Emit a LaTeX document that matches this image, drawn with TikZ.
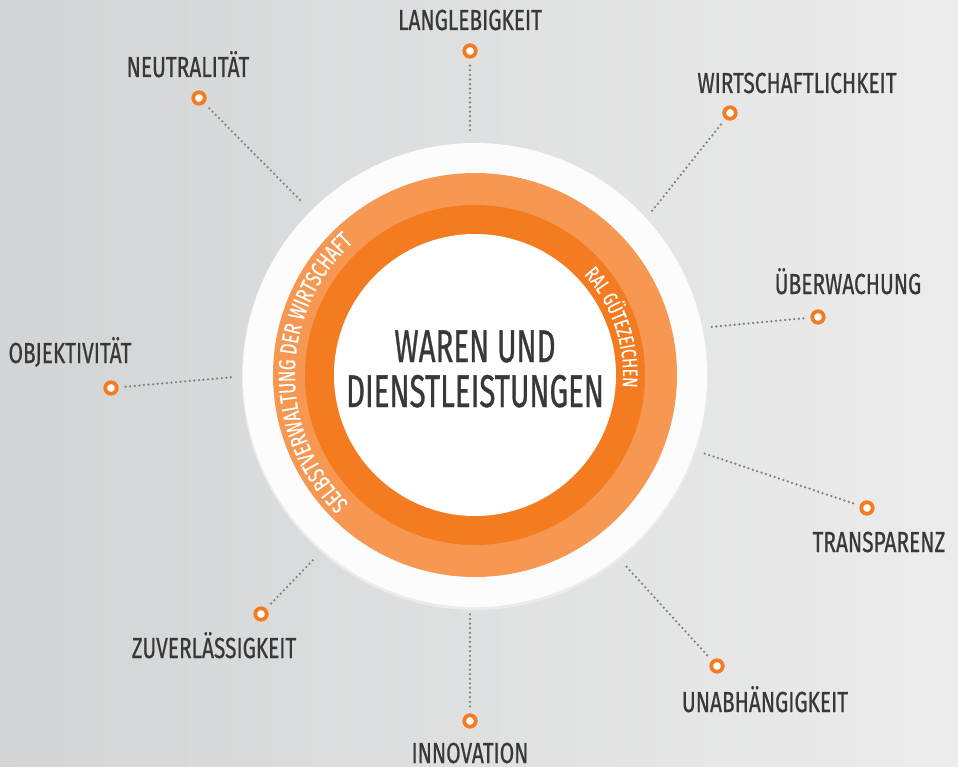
\documentclass[tikz,border=0pt]{standalone}
\usepackage{fontspec}
\usetikzlibrary{decorations.text}
\newfontfamily\dinfont{Fira Sans}[FakeStretch=0.72, FakeBold=0.6]
\newfontfamily\dincenter{Fira Sans}[FakeStretch=0.64, FakeBold=0.6]
\newfontfamily\dinring{Fira Sans}[FakeStretch=0.72, FakeBold=0.3]
\definecolor{ringlight}{HTML}{F79852}
\definecolor{ringdark}{HTML}{F47B20}
\definecolor{textgray}{HTML}{383838}
\definecolor{dotgray}{HTML}{7F7F7F}
\definecolor{bgdark}{HTML}{D2D4D5}
\definecolor{bglight}{HTML}{ECECEC}
\tikzset{
  marker/.style={circle, draw=ringdark, fill=white, line width=3.8pt, minimum size=11.5pt, inner sep=0pt},
  lbl/.style={font=\dinfont\fontsize{29}{29}\selectfont, text=textgray, inner sep=0pt, text height=20pt, text depth=0pt},
  dots/.style={dotgray, line width=2.5pt, line cap=round, dash pattern=on 0pt off 4.6pt, shorten <=7pt}
}
\begin{document}
\begin{tikzpicture}[x=1pt,y=1pt]
\useasboundingbox (-475,-391) rectangle (483,375);
% background
\shade[left color=bgdark, right color=bglight] (-475,-391) rectangle (483,375);

% rings
\fill[black!8] (0,-2) circle (233pt);
\fill[white!98!gray] (0,0) circle (232pt);
\fill[ringlight] (0,0) circle (202pt);
\fill[ringdark] (0,0) circle (170pt);
\fill[white] (0,0) circle (141pt);

% center text
\node[font=\dincenter\fontsize{46}{45}\selectfont, text=textgray, align=center, inner sep=0pt] (title) at (0,6) {WAREN UND\\DIENSTLEISTUNGEN};

% curved ring texts
\path[decorate, decoration={text along path, text align=center,
  text={|\color{white}\dinring\fontsize{23.5}{23.5}\selectfont|SELBSTVERWALTUNG DER WIRTSCHAFT}}]
  (240:180pt) arc[start angle=240, end angle=118, radius=180pt];
\path[decorate, decoration={text along path, text align=center,
  text={|\color{white}\dinring\fontsize{21}{21}\selectfont|RAL GÜTEZEICHEN}}]
  (60:148pt) arc[start angle=60, end angle=-22, radius=148pt];

% ends of the dotted lines at the white circle
\coordinate (c-lang) at (-5,244);
\coordinate (c-wirt) at (177,164);
\coordinate (c-ueber) at (235,48);
\coordinate (c-trans) at (228,-78);
\coordinate (c-unab) at (149,-189);
\coordinate (c-inno) at (-5,-239);
\coordinate (c-zuver) at (-160,-183);
\coordinate (c-objek) at (-241,-2);
\coordinate (c-neutr) at (-172,172);

% markers
\node[marker] (m-lang) at (-5,324) {};
\node[marker] (m-wirt) at (255,262) {};
\node[marker] (m-ueber) at (343,58) {};
\node[marker] (m-trans) at (392,-133) {};
\node[marker] (m-unab) at (242,-291) {};
\node[marker] (m-inno) at (-5,-346) {};
\node[marker] (m-zuver) at (-214,-239) {};
\node[marker] (m-objek) at (-364,-13) {};
\node[marker] (m-neutr) at (-276,277) {};

% dotted connectors
\draw[dots] (m-lang) -- (c-lang);
\draw[dots] (m-wirt) -- (c-wirt);
\draw[dots] (m-ueber) -- (c-ueber);
\draw[dots] (m-trans) -- (c-trans);
\draw[dots] (m-unab) -- (c-unab);
\draw[dots] (m-inno) -- (c-inno);
\draw[dots] (m-zuver) -- (c-zuver);
\draw[dots] (m-objek) -- (c-objek);
\draw[dots] (m-neutr) -- (c-neutr);

% labels
\node[lbl] (t-lang) at (-5,355) {LANGLEBIGKEIT};
\node[lbl] (t-wirt) at (322,292) {WIRTSCHAFTLICHKEIT};
\node[lbl] (t-ueber) at (373,91) {ÜBERWACHUNG};
\node[lbl] (t-trans) at (404,-167) {TRANSPARENZ};
\node[lbl] (t-unab) at (290,-327) {UNABHÄNGIGKEIT};
\node[lbl] (t-inno) at (-5,-378) {INNOVATION};
\node[lbl] (t-zuver) at (-261,-273) {ZUVERLÄSSIGKEIT};
\node[lbl] (t-objek) at (-405,22) {OBJEKTIVITÄT};
\node[lbl] (t-neutr) at (-287,308) {NEUTRALITÄT};

\end{tikzpicture}
\end{document}
